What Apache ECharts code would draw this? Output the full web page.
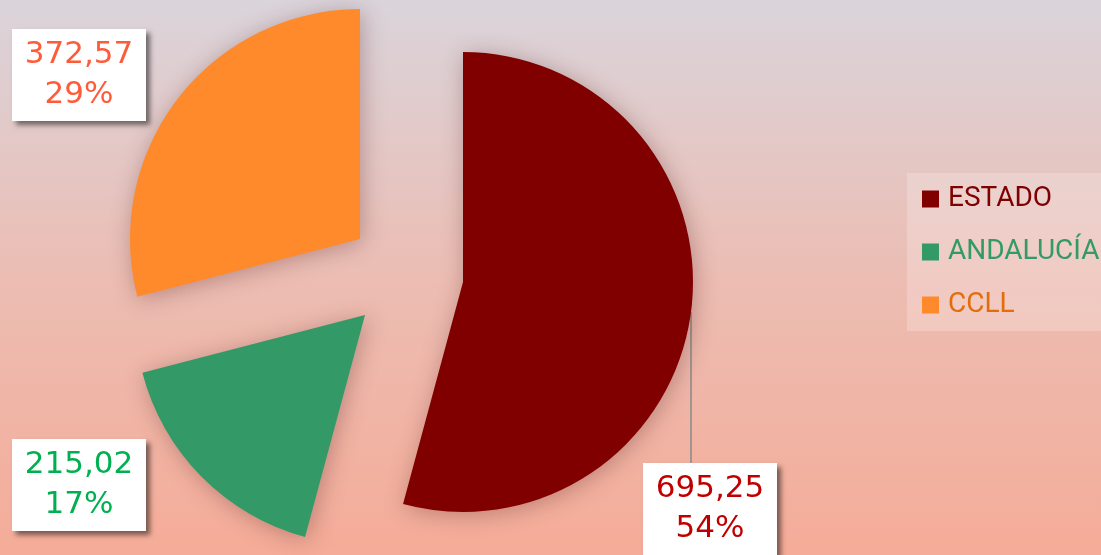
<!DOCTYPE html>
<html>
<head>
<meta charset="utf-8">
<script src="https://cdn.jsdelivr.net/npm/echarts@6/dist/echarts.min.js"></script>
<style>
  html, body { margin: 0; padding: 0; }
  #chart { width: 1101px; height: 555px; }
</style>
</head>
<body>
<div id="chart"></div>
<script>
const names = ['ESTADO', 'ANDALUCÍA', 'CCLL'];
const values = [695.25, 215.02, 372.57];

const sliceColors = ['#800000', '#339966', '#ff8a2b'];
const labelColors = ['#c00000', '#00b050', '#ff5b38'];
const legendColors = ['#7f0000', '#339966', '#e46c0a'];

// each slice is pulled out on its own, so every slice gets its own pie
const centers = [[463, 282], [365, 315], [360, 239]];
const labelBoxes = [[643, 463], [12, 439], [12, 29]];

const fmt = v => v.toFixed(2).replace('.', ',');

const chart = echarts.init(document.getElementById('chart'));

const series = names.map((n, k) => ({
  type: 'pie',
  name: n,
  center: centers[k],
  radius: 230,
  startAngle: 90,
  clockwise: true,
  avoidLabelOverlap: false,
  silent: true,
  data: names.map((name, i) => ({
    name: name,
    value: values[i],
    itemStyle: { color: sliceColors[i], opacity: i === k ? 1 : 0 },
    label: { show: i === k },
    labelLine: { show: i === k && k === 0 }
  })),
  itemStyle: {
    borderWidth: 0,
    shadowBlur: 22,
    shadowColor: 'rgba(90,40,40,0.35)',
    shadowOffsetX: 2,
    shadowOffsetY: 3
  },
  label: {
    position: 'outside',
    formatter: p => fmt(p.value) + '\n' + Math.round(p.percent) + '%',
    color: labelColors[k],
    fontFamily: 'DejaVu Sans',
    fontSize: 31,
    lineHeight: 40,
    align: 'center',
    width: 114,
    backgroundColor: '#ffffff',
    padding: [6, 10, 6, 10],
    shadowColor: 'rgba(0,0,0,0.5)',
    shadowBlur: 5,
    shadowOffsetX: 4,
    shadowOffsetY: 4
  },
  labelLine: { lineStyle: { color: '#8a8a8a', width: 1.5 } },
  labelLayout: p => {
    if (p.dataIndex !== k) return {};
    const box = labelBoxes[k];
    const out = { x: box[0] + 67, y: box[1], align: 'center', verticalAlign: 'top' };
    if (p.labelLinePoints) {
      const s = p.labelLinePoints[0];
      out.labelLinePoints = [s, [s[0], box[1]], [s[0], box[1]]];
    }
    return out;
  }
}));

chart.setOption({
  animation: false,
  backgroundColor: {
    type: 'linear', x: 0, y: 0, x2: 0, y2: 1,
    colorStops: [
      { offset: 0, color: '#dad4db' },
      { offset: 0.5, color: '#ecbdb3' },
      { offset: 1, color: '#f5ac98' }
    ]
  },
  legend: {
    orient: 'vertical',
    left: 907,
    top: 173,
    padding: [8, 200, 8, 15],
    backgroundColor: 'rgba(255,255,255,0.22)',
    itemWidth: 17,
    itemHeight: 17,
    itemGap: 17,
    icon: 'rect',
    selectedMode: false,
    textStyle: { fontFamily: 'Roboto', fontSize: 28, lineHeight: 36, padding: [0, 0, 0, 4] },
    data: names.map((name, i) => ({
      name: name,
      itemStyle: { color: sliceColors[i], opacity: 1 },
      textStyle: { color: legendColors[i] }
    }))
  },
  series: series
});
</script>
</body>
</html>
